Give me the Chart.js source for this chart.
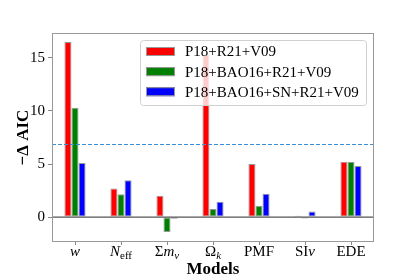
<!DOCTYPE html>
<html>
<head>
<meta charset="utf-8">
<script src="https://cdn.jsdelivr.net/npm/chart.js@4.4.1/dist/chart.umd.min.js"></script>
<style>
  body { margin: 0; background: #fff; }
  canvas { display: block; }
</style>
</head>
<body>
<canvas id="myChart" width="415" height="277"></canvas>
<script>
// categories (models) and the three data combinations
const models = ['w', 'N_eff', 'Σm_ν', 'Ω_k', 'PMF', 'SIν', 'EDE'];
const seriesNames = ['P18+R21+V09', 'P18+BAO16+R21+V09', 'P18+BAO16+SN+R21+V09'];
const redVals = [16.5, 2.7, 2.0, 15.3, 5.0, 0.13, 5.22];
const greenVals = [10.3, 2.15, -1.4, 0.75, 1.07, -0.13, 5.18];
const blueVals = [5.1, 3.47, -0.15, 1.44, 2.2, 0.53, 4.82];
const yTicks = [0, 5, 10, 15];
const dashedLevel = 6.9;

// how each x label is written: [text, style] ; i = italic, s = subscript
const labelParts = [
    [['w', 'i']],
    [['N', 'i'], ['eff', 's']],
    [['Σ', ''], ['m', 'i'], ['ν', 'is']],
    [['Ω', ''], ['k', 'is']],
    [['PMF', '']],
    [['SI', ''], ['ν', 'i']],
    [['EDE', '']]
];

const serif = '"Liberation Serif", "DejaVu Serif", serif';
const colors = ['#ff0000', '#008000', '#0000ff'];

const extras = {
    id: 'extras',
    afterDatasetsDraw(chart) {
        const ctx = chart.ctx;
        const area = chart.chartArea;
        const x = chart.scales.x;
        const y = chart.scales.y;
        ctx.save();

        // zero line
        ctx.strokeStyle = '#555';
        ctx.lineWidth = 1.2;
        ctx.beginPath();
        ctx.moveTo(area.left, y.getPixelForValue(0));
        ctx.lineTo(area.right, y.getPixelForValue(0));
        ctx.stroke();

        // dashed reference line
        ctx.strokeStyle = '#3a8fd6';
        ctx.lineWidth = 1;
        ctx.setLineDash([4, 2]);
        ctx.beginPath();
        ctx.moveTo(area.left, Math.round(y.getPixelForValue(dashedLevel)) + 0.5);
        ctx.lineTo(area.right, Math.round(y.getPixelForValue(dashedLevel)) + 0.5);
        ctx.stroke();
        ctx.setLineDash([]);

        // frame
        ctx.strokeStyle = '#999';
        ctx.lineWidth = 1;
        ctx.strokeRect(Math.round(area.left) + 0.5, Math.round(area.top) + 0.5,
            Math.round(area.right - area.left) - 1, Math.round(area.bottom - area.top) - 1);

        // legend (inside the axes, semi-transparent)
        const lx = 140.5, ly = 40.5, lw = 226, lh = 65;
        ctx.fillStyle = 'rgba(255,255,255,0.8)';
        ctx.strokeStyle = '#d0d0d0';
        ctx.beginPath();
        ctx.roundRect(lx, ly, lw, lh, 3);
        ctx.fill();
        ctx.stroke();
        ctx.font = '15px ' + serif;
        ctx.textBaseline = 'middle';
        ctx.textAlign = 'left';
        chart.data.datasets.forEach(function(ds, i) {
            const cy = 51.5 + i * 20.1;
            ctx.fillStyle = ds.backgroundColor;
            ctx.fillRect(146, cy - 4.5, 29, 9);
            ctx.strokeStyle = '#999';
            ctx.strokeRect(146.5, cy - 4, 28, 8);
            ctx.fillStyle = '#000';
            ctx.fillText(ds.label, 185, cy + 1);
        });

        // x tick labels with math-style parts
        ctx.fillStyle = '#000';
        ctx.textBaseline = 'alphabetic';
        labelParts.forEach(function(parts, i) {
            const cx = x.getPixelForValue(i);
            const pieces = parts.map(function(p) {
                const sub = p[1].indexOf('s') >= 0;
                const ital = p[1].indexOf('i') >= 0;
                const f = (ital ? 'italic ' : '') + (sub ? '11px ' : '15px ') + serif;
                ctx.font = f;
                return {t: p[0], f: f, sub: sub, w: ctx.measureText(p[0]).width};
            });
            const total = pieces.reduce((a, p) => a + p.w, 0);
            let px = cx - total / 2;
            pieces.forEach(function(p) {
                ctx.font = p.f;
                ctx.fillText(p.t, px, p.sub ? 259 : 256);
                px += p.w;
            });
        });

        // axis titles
        ctx.font = 'bold 17px ' + serif;
        ctx.textAlign = 'center';
        ctx.textBaseline = 'middle';
        ctx.fillText('Models', (area.left + area.right) / 2, 270);
        ctx.translate(24, (area.top + area.bottom) / 2);
        ctx.rotate(-Math.PI / 2);
        ctx.fillText('\u2212\u0394 AIC', 0, 0);
        ctx.restore();
    }
};

const valueLists = [redVals, greenVals, blueVals];
const datasets = seriesNames.map(function(name, i) {
    return {
        label: name,
        data: valueLists[i],
        backgroundColor: colors[i],
        borderColor: '#999',
        borderWidth: 1,
        borderSkipped: false,
        barPercentage: 1.0,
        categoryPercentage: 0.46
    };
});

const chart = new Chart(document.getElementById('myChart').getContext('2d'), {
    type: 'bar',
    data: { labels: models, datasets: datasets },
    options: {
        responsive: false,
        animation: false,
        devicePixelRatio: 1,
        layout: { padding: { top: 33, right: 41, left: 0, bottom: 0 } },
        plugins: {
            legend: { display: false },
            tooltip: { enabled: false }
        },
        scales: {
            x: {
                offset: true,
                grid: { drawOnChartArea: false, drawTicks: true, tickLength: 3, color: '#888', offset: false },
                border: { display: false },
                ticks: { display: false },
                afterFit: function(s) { s.height = 35; }
            },
            y: {
                min: -2.35,
                max: 17.35,
                afterBuildTicks: function(s) { s.ticks = yTicks.map(v => ({value: v})); },
                grid: { drawOnChartArea: false, drawTicks: true, tickLength: 4, color: '#888' },
                border: { display: false },
                ticks: { color: '#000', font: { family: serif, size: 15 }, padding: 3 },
                afterFit: function(s) { s.width = 52; }
            }
        }
    },
    plugins: [extras]
});
</script>
</body>
</html>
